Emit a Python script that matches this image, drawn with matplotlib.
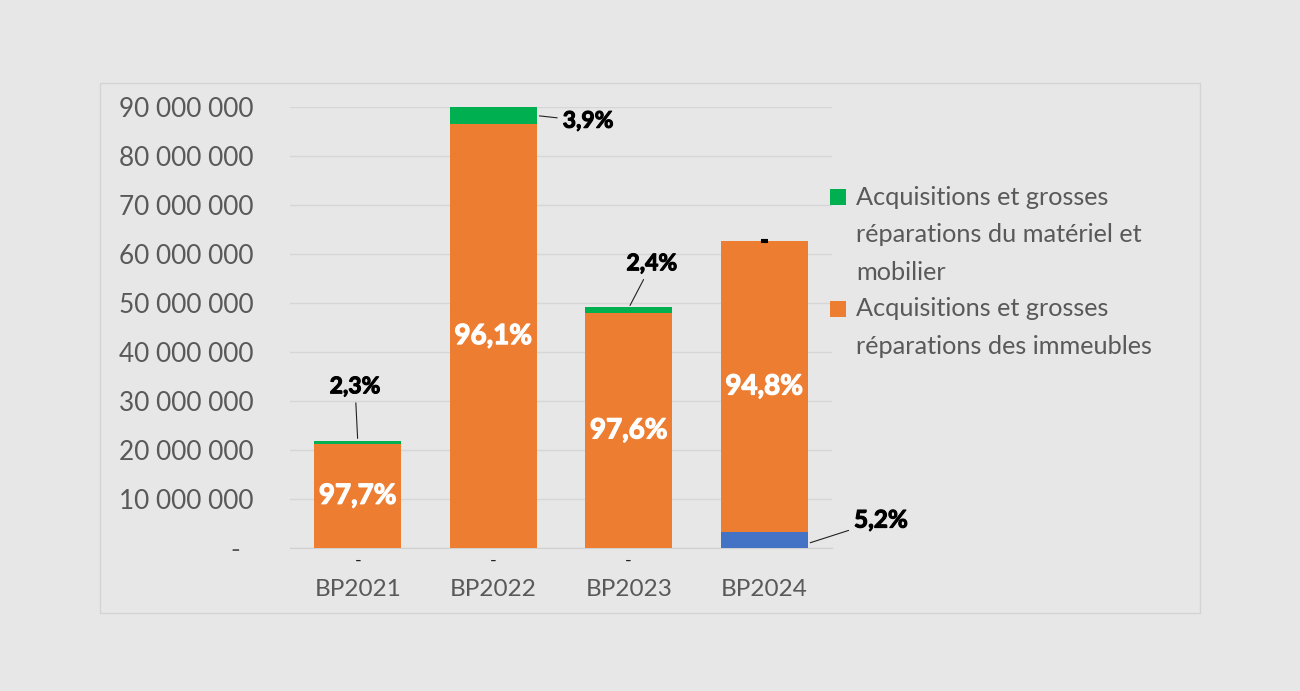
import matplotlib.pyplot as plt
import matplotlib.patheffects as pe
from matplotlib.patches import Rectangle
from matplotlib.ticker import FuncFormatter

years = ['BP2021', 'BP2022', 'BP2023', 'BP2024']
other = [0, 0, 0, 3_260_000]              # blue series (not in legend)
immeubles = [21_300_000, 86_500_000, 48_000_000, 59_400_000]
materiel = [500_000, 3_500_000, 1_200_000, 0]
pct_immeubles = ['97,7%', '96,1%', '97,6%', '94,8%']
pct_materiel = ['2,3%', '3,9%', '2,4%', '-']
pct_other = ['-', '-', '-', '5,2%']
legend_labels = [['Acquisitions et grosses', 'réparations du matériel et', 'mobilier'],
                 ['Acquisitions et grosses', 'réparations des immeubles']]

bg = '#e7e7e7'
green, orange, blue = '#00b050', '#ed7d31', '#4472c4'
grey_txt = '#595959'
plt.rcParams['font.family'] = ['Lato', 'DejaVu Sans']

fig = plt.figure(figsize=(13, 6.91), dpi=100, facecolor=bg)
fig.patches.append(Rectangle((100 / 1300, 1 - 613 / 691), 1100 / 1300, 530 / 691,
                             transform=fig.transFigure, facecolor='none',
                             edgecolor='#d4d4d4', lw=1, zorder=-1))

ax = fig.add_axes([290 / 1300, 1 - 548 / 691, 542 / 1300, 441 / 691])
ax.set_facecolor('none')
x = range(len(years))
w = 0.64
ax.bar(x, other, w, color=blue, zorder=3)
ax.bar(x, immeubles, w, bottom=other, color=orange, zorder=3)
bot2 = [a + b for a, b in zip(other, immeubles)]
ax.bar(x, materiel, w, bottom=bot2, color=green, zorder=3)

ax.set_xlim(-0.5, 3.5)
ax.set_ylim(0, 90_000_000)
ax.set_yticks(range(0, 90_000_001, 10_000_000))
ax.yaxis.set_major_formatter(FuncFormatter(
    lambda v, p: '-  ' if v == 0 else f'{v:,.0f}'.replace(',', ' ')))
ax.set_xticks(list(x))
ax.set_xticklabels(years)
ax.tick_params(length=0, labelsize=17.5, labelcolor=grey_txt)
ax.tick_params(axis='y', pad=26, labelsize=18.8)
ax.tick_params(axis='x', pad=22)
ax.grid(axis='y', color='#d6d6d6', lw=1, zorder=0)
for s in ['left', 'right', 'top']:
    ax.spines[s].set_visible(False)
ax.spines['bottom'].set_color('#d0d0d0')

white_fx = [pe.withStroke(linewidth=0.9, foreground='white')]
black_fx = [pe.withStroke(linewidth=0.8, foreground='black')]

# white labels inside orange
for i in x:
    ax.text(i, other[i] + immeubles[i] / 2, pct_immeubles[i], ha='center', va='center',
            color='white', fontsize=20, fontweight='bold', zorder=5, path_effects=white_fx)

# green labels with leader lines
arr = dict(arrowstyle='-', color='#222222', lw=0.8)
tops = [a + b for a, b in zip(bot2, materiel)]
ax.annotate(pct_materiel[0], xy=(0, tops[0]), xytext=(-0.02, 32_900_000),
            ha='center', va='center', fontsize=16.5, fontweight='bold', arrowprops=arr,
            path_effects=black_fx)
ax.annotate(pct_materiel[1], xy=(1.32, bot2[1] + materiel[1] / 2), xytext=(1.70, 87_100_000),
            ha='center', va='center', fontsize=16.5, fontweight='bold', arrowprops=arr,
            path_effects=black_fx)
ax.annotate(pct_materiel[2], xy=(2.0, tops[2] - 200_000), xytext=(2.17, 58_000_000),
            ha='center', va='center', fontsize=16.5, fontweight='bold', arrowprops=arr,
            path_effects=black_fx)
ax.text(3, tops[3], pct_materiel[3], ha='center', va='center', fontsize=16.5,
        fontweight='bold', zorder=5, path_effects=black_fx)

# blue labels
for i in range(3):
    ax.text(i, -1_000_000, pct_other[i], ha='center', va='top', fontsize=13,
            color='#222222')
ax.annotate(pct_other[3], xy=(3.32, 900_000), xytext=(3.86, 5_700_000),
            ha='center', va='center', fontsize=17.5, fontweight='bold', arrowprops=arr,
            path_effects=black_fx)

# legend
for k, (col, lines, y0) in enumerate(zip([green, orange], legend_labels, [197, 309])):
    fig.patches.append(Rectangle((830 / 1300, 1 - (y0 + 8) / 691), 16 / 1300, 16 / 691,
                                 transform=fig.transFigure, facecolor=col, lw=0))
    for j, line in enumerate(lines):
        fig.text(856 / 1300, 1 - (y0 + 38 * j) / 691, line, ha='left', va='center',
                 fontsize=18.2, color=grey_txt)

fig.savefig('out.png', dpi=100, facecolor=bg)
